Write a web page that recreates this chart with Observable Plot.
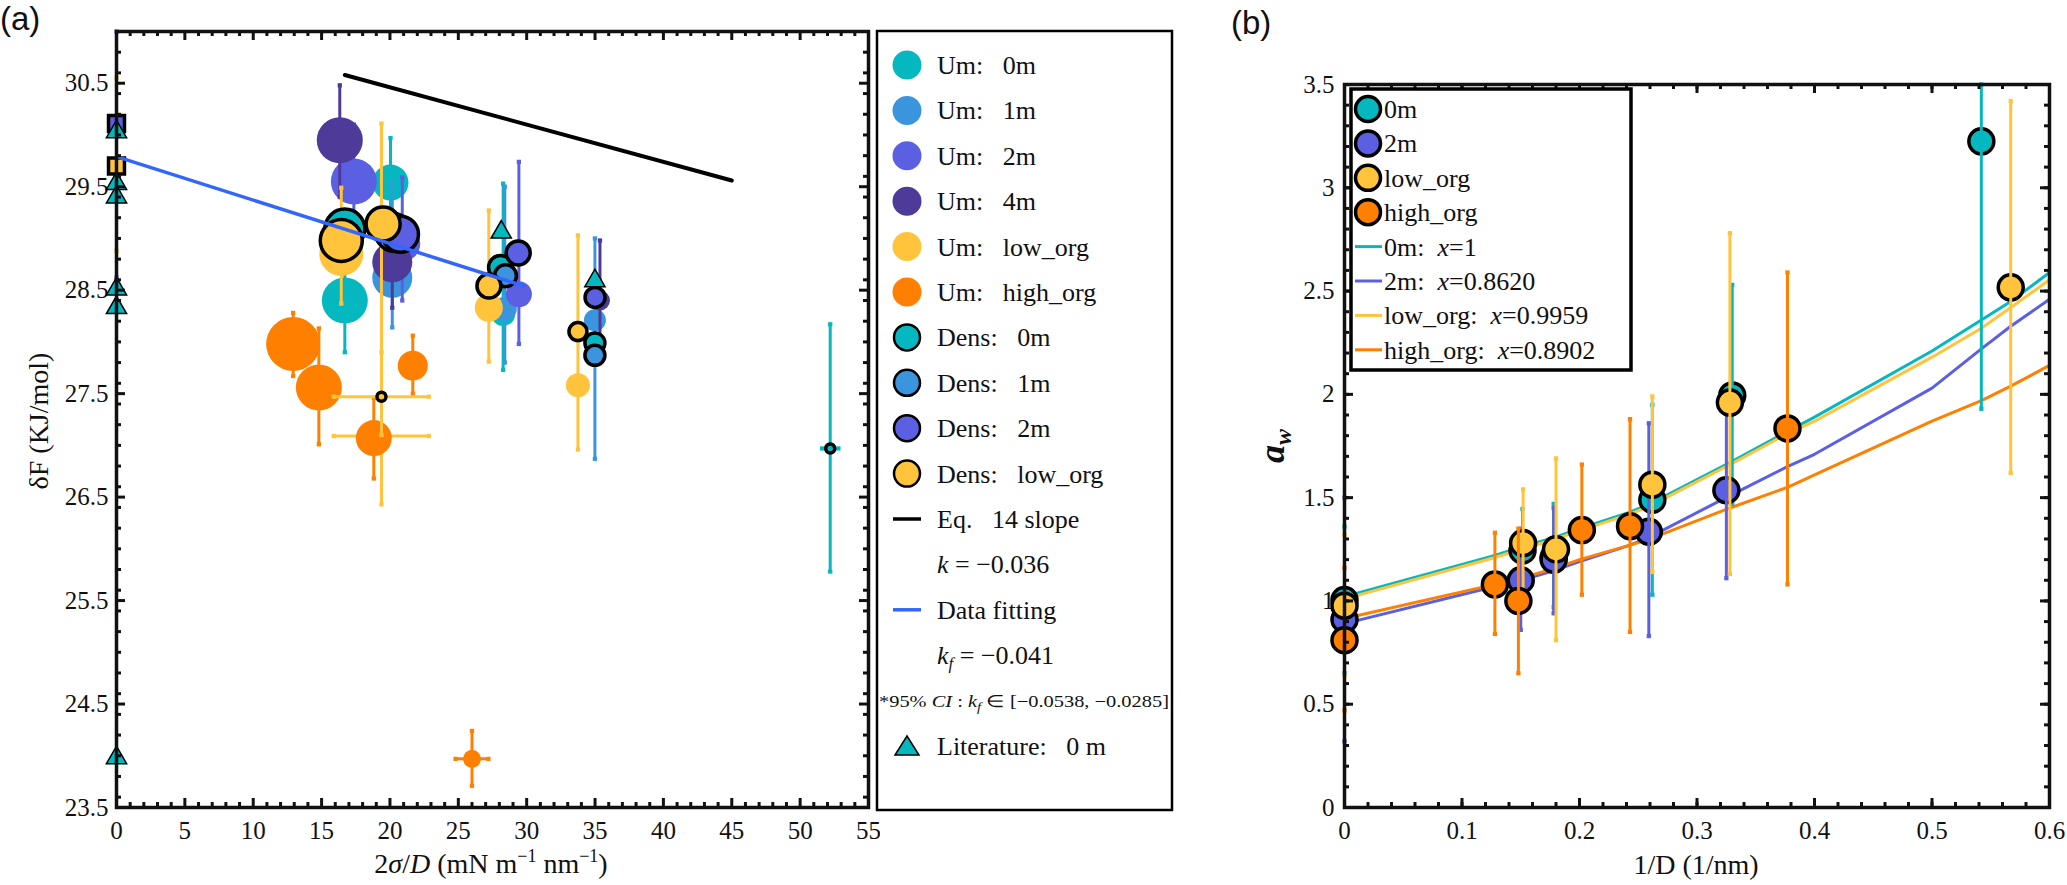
<!DOCTYPE html>
<html>
<head>
<meta charset="utf-8">
<script src="https://cdn.jsdelivr.net/npm/d3@7"></script>
<script src="https://cdn.jsdelivr.net/npm/@observablehq/plot@0.6"></script>
<style>
  body { margin: 0; background: #fff; }
  #fig { position: relative; width: 2067px; height: 885px; overflow: hidden; background: #fff; }
  #fig > svg { position: absolute; }
</style>
</head>
<body>
<div id="fig"></div>
<script>
// ---------- panel (a): dF vs 2sigma/D ----------
const xTicksA = [0, 5, 10, 15, 20, 25, 30, 35, 40, 45, 50, 55];
const yTicksA = [23.5, 24.5, 25.5, 26.5, 27.5, 28.5, 29.5, 30.5];

// Um series: [x, y, yLow, yHigh, bubble, xLow, xHigh]
const um0m = [[20.04, 29.54, 29.10, 29.97, 18], [16.70, 28.40, 27.90, 28.90, 23], [28.28, 28.27, 27.73, 29.53, 12]];
const um1m = [[20.17, 28.62, 28.14, 29.53, 20], [28.40, 28.32, 27.80, 29.50, 12], [34.99, 28.21, 26.87, 29.00, 11]];
const um2m = [[17.36, 29.55, 29.00, 30.10, 23], [20.90, 28.95, 28.40, 29.59, 18], [29.43, 28.46, 27.98, 29.74, 13]];
const um4m = [[16.33, 29.95, 29.40, 30.48, 23], [20.17, 28.77, 28.33, 29.20, 20], [35.36, 28.40, 27.90, 28.98, 10]];
const umLow = [[16.44, 28.85, 28.37, 29.49, 22], [27.23, 28.33, 27.81, 29.27, 14], [33.75, 27.58, 26.96, 29.03, 12],
               [19.38, 27.09, 26.43, 30.11, 7, 15.89, 22.84]];
const umHigh = [[12.92, 27.98, 27.67, 28.28, 27], [14.80, 27.56, 27.01, 28.13, 23], [18.82, 27.07, 26.68, 27.46, 18],
                [21.67, 27.77, 27.50, 28.06, 15], [26.00, 23.97, 23.71, 24.24, 9, 24.8, 27.2]];

// Dens series: same layout
const dens0m = [[16.70, 29.09, null, null, 20], [20.20, 29.07, null, null, 18], [28.09, 28.72, null, null, 12],
                [34.99, 27.99, null, null, 10], [52.20, 26.97, 25.78, 28.17, 4.5, 51.6, 52.8]];
const dens1m = [[20.30, 29.05, null, null, 18], [28.45, 28.64, null, null, 11], [34.99, 27.87, null, null, 10]];
const dens2m = [[20.77, 29.04, null, null, 18], [29.38, 28.86, null, null, 12], [35.00, 28.43, null, null, 10]];
const densLow = [[16.44, 28.98, null, null, 21], [19.50, 29.14, null, null, 17], [27.24, 28.54, null, null, 12],
                 [33.75, 28.10, null, null, 9], [19.38, 27.47, 27.10, 27.90, 4.5, 15.89, 22.84]];
// square markers at x = 0
const densSq2m = [[0, 30.11, 28.62, 31.0, 9]];
const densSqLow = [[0, 29.70, 28.88, 30.55, 9]];

// literature, 0 m
const litX = [0, 0, 0, 0, 0, 0, 28.14, 34.99];
const litY = [30.03, 29.53, 29.40, 28.51, 28.33, 23.98, 29.06, 28.59];

// lines
const eq14 = [[16.70, 30.58], [45.00, 29.56]];
const fitA = [[0, 29.79], [29.79, 28.54]];

// ---------- panel (b): a_w vs 1/D ----------
const xTicksB = [0, 0.1, 0.2, 0.3, 0.4, 0.5, 0.6];
const yTicksB = [0, 0.5, 1, 1.5, 2, 2.5, 3, 3.5];

// [1/D, a_w, low, high]
const b0m = [[0, 1.004, 0.65, 1.36], [0.1515, 1.244, 1.04, 1.445], [0.178, 1.21, 0.97, 1.47],
             [0.262, 1.49, 1.03, 1.95], [0.330, 1.995, 1.47, 2.53], [0.542, 3.225, 1.93, 3.5]];
const b2m = [[0, 0.91, 0.32, 1.50], [0.150, 1.10, 0.86, 1.35], [0.178, 1.20, 0.94, 1.45],
             [0.259, 1.335, 0.83, 1.86], [0.325, 1.536, 1.11, 1.98]];
const bLow = [[0, 0.977, 0.64, 1.32], [0.152, 1.28, 1.02, 1.54], [0.180, 1.25, 0.81, 1.69],
              [0.262, 1.563, 1.14, 1.99], [0.328, 1.96, 1.13, 2.78], [0.567, 2.518, 1.62, 3.42]];
const bHigh = [[0, 0.81, 0.47, 1.16], [0.128, 1.08, 0.84, 1.33], [0.148, 1.00, 0.65, 1.35],
               [0.202, 1.343, 1.03, 1.66], [0.243, 1.362, 0.85, 1.88], [0.377, 1.835, 1.08, 2.59]];

// fitted curves
const fitXB = [0, 0.128, 0.15, 0.18, 0.2, 0.243, 0.26, 0.328, 0.377, 0.4, 0.5, 0.542, 0.567, 0.6];
const fit0m = [1.02, 1.22, 1.26, 1.31, 1.35, 1.43, 1.47, 1.67, 1.82, 1.89, 2.21, 2.36, 2.45, 2.59];
const fitLow = [1.01, 1.21, 1.25, 1.30, 1.34, 1.42, 1.46, 1.66, 1.81, 1.87, 2.18, 2.32, 2.42, 2.555];
const fit2m = [0.89, 1.07, 1.10, 1.15, 1.19, 1.27, 1.31, 1.51, 1.65, 1.71, 2.03, 2.22, 2.33, 2.46];
const fitHigh = [0.915, 1.08, 1.11, 1.16, 1.20, 1.27, 1.30, 1.45, 1.55, 1.61, 1.87, 1.97, 2.04, 2.14];

const groups = ["0m", "1m", "2m", "4m", "low_org", "high_org"];
const palette = ["#05b8bf", "#3a95de", "#5b5fe2", "#4e3a98", "#ffc33c", "#ff8000"];
const col = g => palette[groups.indexOf(g)];

const rows = (arr, g) => arr.map(([x, y, lo, hi, s, xlo, xhi]) => ({x, y, lo, hi, s, xlo, xhi, g}));

const font = "'Liberation Serif', 'Times New Roman', serif";

// error bars with small square caps
function errBars(data) {
  const v = data.filter(d => d.lo != null);
  const h = data.filter(d => d.xlo != null);
  return [
    Plot.ruleX(v, {x: "x", y1: "lo", y2: "hi", stroke: "g", strokeWidth: 3}),
    Plot.dot(v, {x: "x", y: "lo", symbol: "square", r: 2.4, fill: "g"}),
    Plot.dot(v, {x: "x", y: "hi", symbol: "square", r: 2.4, fill: "g"}),
    Plot.ruleY(h, {y: "y", x1: "xlo", x2: "xhi", stroke: "g", strokeWidth: 3}),
    Plot.dot(h, {x: "xlo", y: "y", symbol: "square", r: 2.4, fill: "g"}),
    Plot.dot(h, {x: "xhi", y: "y", symbol: "square", r: 2.4, fill: "g"})
  ];
}

// inward major/minor ticks on all four sides plus the box (W, H = inner size)
function boxTicks(xMaj, xMin, yMaj, yMin, W, H) {
  const t = (vals, len) => {
    const o = {stroke: "#111", strokeWidth: 3};
    return [
      Plot.tickX(vals, {...o, x: d => d, insetTop: H - len}),
      Plot.tickX(vals, {...o, x: d => d, insetBottom: H - len}),
    ];
  };
  const u = (vals, len) => {
    const o = {stroke: "#111", strokeWidth: 3};
    return [
      Plot.tickY(vals, {...o, y: d => d, insetRight: W - len}),
      Plot.tickY(vals, {...o, y: d => d, insetLeft: W - len}),
    ];
  };
  return [...t(xMaj, 9), ...t(xMin, 5), ...u(yMaj, 9), ...u(yMin, 5),
    Plot.frame({stroke: "#111", strokeWidth: 3.5})];
}

const umSeries = [rows(um0m, "0m"), rows(um1m, "1m"), rows(um2m, "2m"), rows(um4m, "4m"), rows(umLow, "low_org"), rows(umHigh, "high_org")];
const densSeries = [rows(dens0m, "0m"), rows(dens1m, "1m"), rows(dens2m, "2m"), rows(densLow, "low_org")];
const squares = [...rows(densSq2m, "2m"), ...rows(densSqLow, "low_org")];
const lit = litX.map((x, i) => ({x, y: litY[i]}));

const xMinorA = d3.range(0, 55.01, 1).filter(v => v % 5 !== 0);
const yMinorA = d3.range(23.6, 30.91, 0.2).map(v => +v.toFixed(1));

const plotA = Plot.plot({
  width: 880, height: 885,
  marginLeft: 116, marginRight: 12, marginTop: 31, marginBottom: 78,
  x: {domain: [0, 55], label: null},
  y: {domain: [23.5, 31], label: null},
  r: {type: "identity"},
  color: {domain: groups, range: palette},
  style: {fontFamily: font, fontSize: "25px", background: "none", color: "#111"},
  marks: [
    Plot.axisX(xTicksA, {anchor: "bottom", tickSize: 0, tickPadding: 14, label: null}),
    Plot.axisY(yTicksA, {anchor: "left", tickSize: 0, tickPadding: 8, tickFormat: d => d.toFixed(1), label: null}),
    ...umSeries.flatMap(s => [
      ...errBars(s),
      Plot.dot(s, {x: "x", y: "y", r: "s", fill: "g"})
    ]),
    ...densSeries.flatMap(s => [
      ...errBars(s),
      Plot.dot(s, {x: "x", y: "y", r: "s", fill: "g", stroke: "#000", strokeWidth: 3.5})
    ]),
    ...errBars(squares),
    Plot.dot(squares, {x: "x", y: "y", r: "s", symbol: "square", fill: "g", stroke: "#000", strokeWidth: 3.5}),
    Plot.line(eq14, {x: d => d[0], y: d => d[1], stroke: "#000", strokeWidth: 4}),
    Plot.line(fitA, {x: d => d[0], y: d => d[1], stroke: "#3366ff", strokeWidth: 3.5}),
    Plot.dot(lit, {x: "x", y: "y", symbol: "triangle", r: 7.5, fill: col("0m"), stroke: "#000", strokeWidth: 1.5}),
    ...boxTicks(xTicksA, xMinorA, yTicksA, yMinorA, 752, 776)
  ]
});

const bSeries = [rows(b0m, "0m"), rows(b2m, "2m"), rows(bLow, "low_org"), rows(bHigh, "high_org")];
const curves = [[fit0m, "0m"], [fit2m, "2m"], [fitLow, "low_org"], [fitHigh, "high_org"]]
  .flatMap(([ys, g]) => fitXB.map((x, i) => ({x, y: ys[i], g})));

const xMinorB = d3.range(0.02, 0.59, 0.02).map(v => +v.toFixed(2));
const yMinorB = d3.range(0.1, 3.45, 0.1).map(v => +v.toFixed(1));

const plotB = Plot.plot({
  width: 827, height: 885,
  marginLeft: 104, marginRight: 18, marginTop: 84, marginBottom: 78,
  x: {domain: [0, 0.6], label: null},
  y: {domain: [0, 3.5], label: null},
  color: {domain: groups, range: palette},
  style: {fontFamily: font, fontSize: "25px", background: "none", color: "#111"},
  marks: [
    Plot.axisX(xTicksB, {anchor: "bottom", tickSize: 0, tickPadding: 14, tickFormat: d => String(d), label: null}),
    Plot.axisY(yTicksB, {anchor: "left", tickSize: 0, tickPadding: 10, tickFormat: d => String(d), label: null}),
    Plot.line(curves, {x: "x", y: "y", z: "g", stroke: "g", strokeWidth: 3}),
    ...bSeries.flatMap(s => [
      Plot.dot(s, {x: "x", y: "y", r: 12.5, fill: "g", stroke: "#000", strokeWidth: 3.5}),
      ...errBars(s)
    ]),
    ...boxTicks(xTicksB, xMinorB, yTicksB, yMinorB, 705, 723)
  ]
});

const fig = d3.select("#fig");
fig.append(() => plotA).style("left", "0px").style("top", "0px");
fig.append(() => plotB).style("left", "1240px").style("top", "0px");

// ---------- overlay: labels and legends ----------
const ov = fig.append("svg").attr("width", 2067).attr("height", 885)
  .style("left", "0px").style("top", "0px").attr("font-family", font).attr("fill", "#111");

function rich(parent, x, y, size, parts, anchor = "start") {
  const t = parent.append("text").attr("x", x).attr("y", y).attr("font-size", size).attr("text-anchor", anchor);
  for (const p of parts) {
    const [s, o] = typeof p === "string" ? [p, {}] : p;
    const ts = t.append("tspan").text(s);
    if (o.i) ts.attr("font-style", "italic");
    if (o.b) ts.attr("font-weight", "bold");
    if (o.size) ts.attr("font-size", o.size);
    if (o.dy) ts.attr("dy", o.dy);
  }
  return t;
}

// panel letters
ov.append("text").attr("x", 0).attr("y", 30).attr("font-family", "'Liberation Sans', Arial, sans-serif")
  .attr("font-size", 33).text("(a)");
ov.append("text").attr("x", 1231).attr("y", 34).attr("font-family", "'Liberation Sans', Arial, sans-serif")
  .attr("font-size", 33).text("(b)");

// axis titles
rich(ov, 491, 873, 28, ["2", ["σ", {i: 1}], "/", ["D", {i: 1}], " (mN m", ["−1", {size: 18, dy: -11}],
  [" nm", {dy: 11}], ["−1", {size: 18, dy: -11}], [")", {dy: 11}]], "middle");
rich(ov, 0, 0, 28, ["δF (KJ/mol)"], "middle").attr("transform", "translate(48,421) rotate(-90)");
rich(ov, 1696, 874, 28, ["1/D (1/nm)"], "middle");
rich(ov, 0, 0, 36, [["a", {i: 1, b: 1}], ["w", {i: 1, b: 1, size: 24, dy: 7}]], "middle")
  .attr("transform", "translate(1284,446) rotate(-90)");

// legend (a)
const la = ov.append("g");
la.append("rect").attr("x", 877).attr("y", 31).attr("width", 295).attr("height", 779)
  .attr("fill", "#fff").attr("stroke", "#000").attr("stroke-width", 2.5);
const step = 45.4, y0 = 65, mx = 907, tx = 937;
const legA = [
  ["dot", "0m", ["Um:\u2002 0m"]], ["dot", "1m", ["Um:\u2002 1m"]], ["dot", "2m", ["Um:\u2002 2m"]],
  ["dot", "4m", ["Um:\u2002 4m"]], ["dot", "low_org", ["Um:\u2002 low_org"]], ["dot", "high_org", ["Um:\u2002 high_org"]],
  ["ring", "0m", ["Dens:\u2002 0m"]], ["ring", "1m", ["Dens:\u2002 1m"]], ["ring", "2m", ["Dens:\u2002 2m"]],
  ["ring", "low_org", ["Dens:\u2002 low_org"]],
  ["line", "#000", ["Eq.\u2002 14 slope"]],
  ["none", null, [["k", {i: 1}], " = −0.036"]],
  ["line", "#3366ff", ["Data fitting"]],
  ["none", null, [["k", {i: 1}], ["f", {i: 1, size: 17, dy: 5}], [" = −0.041", {dy: -5}]]]
];
legA.forEach(([kind, key, parts], i) => {
  const cy = y0 + i * step;
  if (kind === "dot" || kind === "ring") {
    la.append("circle").attr("cx", mx).attr("cy", cy).attr("r", kind === "ring" ? 13 : 14.5)
      .attr("fill", col(key)).attr("stroke", kind === "ring" ? "#000" : "none").attr("stroke-width", 2.5);
  } else if (kind === "line") {
    la.append("line").attr("x1", 893).attr("x2", 921).attr("y1", cy).attr("y2", cy)
      .attr("stroke", key).attr("stroke-width", 3.5);
  }
  rich(la, tx, cy + 9, 26, parts);
});
rich(la, 879, y0 + 14 * step + 6, 16.5, ["*95% ", ["CI", {i: 1}], " : ", ["k", {i: 1}], ["f", {i: 1, size: 12, dy: 4}],
  [" ∈ [−0.0538, −0.0285]", {dy: -4}]]).attr("textLength", 290).attr("lengthAdjust", "spacingAndGlyphs");
const ty = y0 + 15 * step;
la.append("path").attr("d", `M${mx - 12},${ty + 9}L${mx + 12},${ty + 9}L${mx},${ty - 10}Z`)
  .attr("fill", col("0m")).attr("stroke", "#000").attr("stroke-width", 1.5);
rich(la, tx, ty + 9, 26, ["Literature:\u2002 0 m"]);

// legend (b), inside the axes
const lb = ov.append("g");
lb.append("rect").attr("x", 1351).attr("y", 89).attr("width", 280).attr("height", 281)
  .attr("fill", "#fff").attr("stroke", "#000").attr("stroke-width", 3.5);
const legB = [
  ["dot", "0m", ["0m"]], ["dot", "2m", ["2m"]], ["dot", "low_org", ["low_org"]], ["dot", "high_org", ["high_org"]],
  ["line", "0m", ["0m:\u2002", ["x", {i: 1}], "=1"]],
  ["line", "2m", ["2m:\u2002", ["x", {i: 1}], "=0.8620"]],
  ["line", "low_org", ["low_org:\u2002", ["x", {i: 1}], "=0.9959"]],
  ["line", "high_org", ["high_org:\u2002", ["x", {i: 1}], "=0.8902"]]
];
legB.forEach(([kind, key, parts], i) => {
  const cy = 109 + i * 34.4;
  if (kind === "dot") {
    lb.append("circle").attr("cx", 1368).attr("cy", cy).attr("r", 12.5)
      .attr("fill", col(key)).attr("stroke", "#000").attr("stroke-width", 3.5);
  } else {
    lb.append("line").attr("x1", 1355).attr("x2", 1382).attr("y1", cy).attr("y2", cy)
      .attr("stroke", col(key)).attr("stroke-width", 3);
  }
  rich(lb, 1384, cy + 9, 26, parts);
});
</script>
</body>
</html>
